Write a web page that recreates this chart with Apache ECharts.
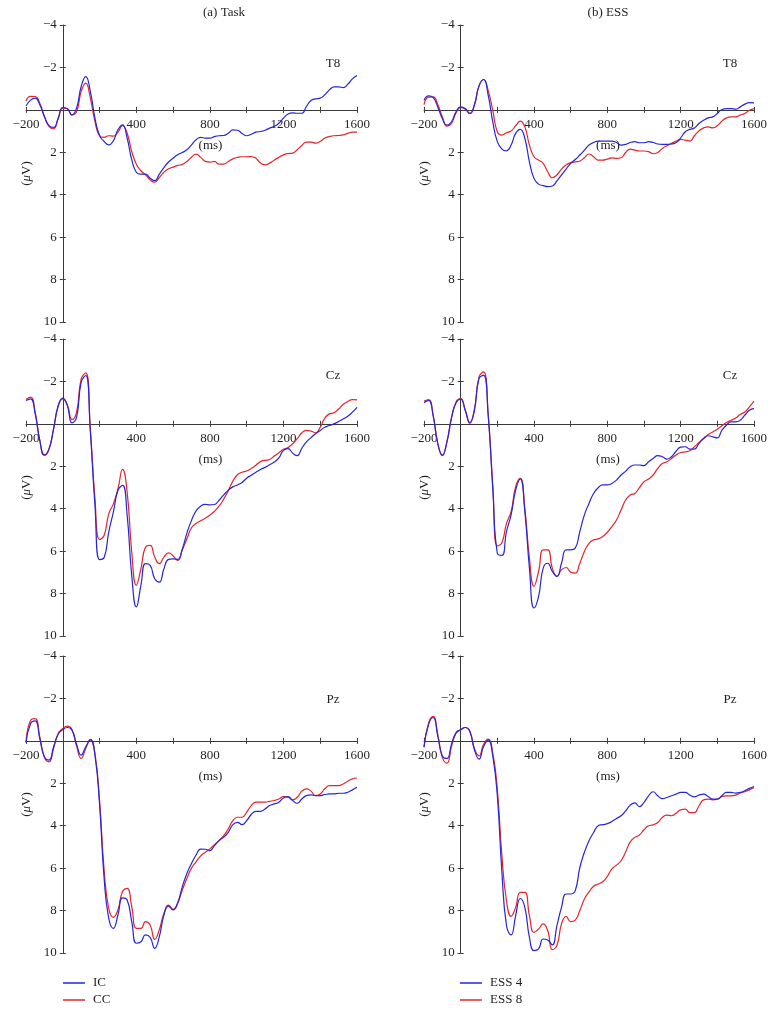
<!DOCTYPE html>
<html>
<head>
<meta charset="utf-8">
<title>ERP waveforms</title>
<script src="https://cdn.jsdelivr.net/npm/echarts@6.0.0/dist/echarts.min.js"></script>
<style>
  html, body { margin: 0; padding: 0; background: #fff; }
  #main { width: 775px; height: 1011px; }
</style>
</head>
<body>
<div id="main"></div>
<script>
// sample times (ms)
const times = [
  -200, -175, -150, -125, -100, -75, -50, -25, 0, 25,
  50, 75, 100, 125, 150, 175, 200, 225, 250, 275,
  300, 325, 350, 375, 400, 425, 450, 475, 500, 525,
  550, 575, 600, 625, 650, 675, 700, 725, 750, 775,
  800, 825, 850, 875, 900, 925, 950, 975, 1000, 1025,
  1050, 1075, 1100, 1125, 1150, 1175, 1200, 1225, 1250, 1275,
  1300, 1325, 1350, 1375, 1400, 1425, 1450, 1475, 1500, 1525,
  1550, 1575, 1600
];
const xLabelValues = [-200, 400, 800, 1200, 1600];
const yLabelValues = [-4, -2, 2, 4, 6, 8, 10];
const columnTitles = ['(a) Task', '(b) ESS'];
const channels = ['T8', 'Cz', 'Pz'];
const taskNames = ['IC', 'CC'];
const essNames = ['ESS 4', 'ESS 8'];

// amplitudes (uV), one value per sample time
const t8TaskIC = [
  -0.19, -0.46, -0.55, -0.24, 0.31, 0.74, 0.83, 0.39, -0.11, -0.05,
  0.24, -0.08, -1.1, -1.57, -0.86, 0.39, 1.21, 1.49, 1.65, 1.46,
  0.94, 0.71, 1.33, 2.35, 2.94, 3.03, 3.03, 3.22, 3.34, 3.03,
  2.72, 2.46, 2.28, 2.12, 2.01, 1.88, 1.65, 1.41, 1.3, 1.33,
  1.33, 1.26, 1.22, 1.21, 1.1, 0.94, 0.96, 1.11, 1.22, 1.15,
  1.05, 1.02, 0.96, 0.86, 0.78, 0.63, 0.39, 0.2, 0.14, 0.16,
  0.16, -0.16, -0.44, -0.52, -0.55, -0.71, -0.94, -1.08, -1.08, -1.05,
  -1.21, -1.46, -1.62
];
const t8TaskCC = [
  -0.42, -0.64, -0.63, -0.31, 0.31, 0.78, 0.89, 0.42, -0.08, -0.05,
  0.24, 0.08, -0.86, -1.26, -0.55, 0.55, 1.22, 1.3, 1.22, 1.24,
  1.05, 0.74, 1.1, 1.96, 2.56, 2.87, 3.06, 3.3, 3.41, 3.19,
  2.94, 2.78, 2.7, 2.62, 2.57, 2.43, 2.23, 2.09, 2.24, 2.43,
  2.46, 2.43, 2.56, 2.56, 2.43, 2.31, 2.24, 2.21, 2.21, 2.2,
  2.28, 2.51, 2.59, 2.51, 2.37, 2.24, 2.12, 2.06, 2.04, 1.88,
  1.68, 1.52, 1.52, 1.57, 1.49, 1.33, 1.26, 1.22, 1.21, 1.18,
  1.11, 1.05, 1.05
];
const t8Ess4 = [
  -0.45, -0.66, -0.58, -0.14, 0.41, 0.72, 0.56, 0.09, -0.14, -0.06,
  0.17, -0.22, -1.13, -1.43, -0.69, 0.56, 1.5, 1.85, 1.93, 1.66,
  1.11, 0.92, 1.35, 2.45, 3.23, 3.5, 3.57, 3.62, 3.59, 3.35,
  3.07, 2.79, 2.52, 2.34, 2.13, 1.9, 1.66, 1.54, 1.47, 1.47,
  1.47, 1.47, 1.54, 1.66, 1.63, 1.54, 1.5, 1.55, 1.55, 1.5,
  1.54, 1.61, 1.63, 1.63, 1.61, 1.54, 1.32, 1.03, 0.92, 0.85,
  0.64, 0.49, 0.38, 0.33, 0.17, -0.02, -0.06, -0.06, -0.03, -0.14,
  -0.27, -0.34, -0.33
];
const t8Ess8 = [
  -0.25, -0.6, -0.61, -0.25, 0.33, 0.77, 0.64, 0.13, -0.11, -0.03,
  0.17, -0.25, -1.11, -1.43, -0.92, 0.02, 1.03, 1.19, 1.08, 1.0,
  0.75, 0.53, 0.8, 1.66, 2.21, 2.37, 2.52, 2.92, 3.2, 3.07,
  2.79, 2.6, 2.49, 2.45, 2.41, 2.26, 2.08, 2.21, 2.37, 2.37,
  2.32, 2.26, 2.29, 2.26, 2.01, 1.85, 1.9, 1.94, 1.94, 1.97,
  2.07, 2.01, 1.82, 1.69, 1.58, 1.47, 1.39, 1.43, 1.47, 1.22,
  0.99, 0.85, 0.8, 0.85, 0.75, 0.53, 0.38, 0.33, 0.33, 0.25,
  0.17, 0.02, -0.06
];
const czTaskIC = [
  -1.1, -1.18, -0.47, 0.78, 1.46, 1.18, 0.24, -0.86, -1.21, -0.86,
  -0.05, -0.31, -1.96, -2.28, 0.39, 3.85, 6.4, 6.3, 5.1, 4.16,
  3.14, 2.9, 4.3, 7.14, 8.63, 7.61, 6.59, 6.67, 7.3, 7.46,
  6.83, 6.39, 6.36, 6.39, 5.9, 5.15, 4.55, 4.1, 3.88, 3.8,
  3.82, 3.8, 3.6, 3.35, 3.13, 2.97, 2.88, 2.76, 2.56, 2.42,
  2.28, 2.15, 2.05, 1.93, 1.8, 1.6, 1.25, 1.17, 1.38, 1.5,
  1.15, 0.85, 0.65, 0.47, 0.31, 0.16, 0.08, 0.0, -0.11, -0.23,
  -0.36, -0.55, -0.78
];
const czTaskCC = [
  -1.15, -1.26, -0.55, 0.78, 1.49, 1.21, 0.24, -0.83, -1.18, -0.89,
  -0.2, -0.55, -2.12, -2.4, 0.24, 3.53, 5.45, 5.25, 4.24, 3.77,
  3.06, 2.15, 3.22, 6.04, 7.61, 6.83, 5.81, 5.73, 6.28, 6.59,
  6.28, 6.08, 6.23, 6.44, 5.95, 5.42, 4.9, 4.7, 4.57, 4.45,
  4.3, 4.12, 3.88, 3.55, 3.15, 2.7, 2.4, 2.28, 2.22, 2.1,
  1.95, 1.78, 1.72, 1.68, 1.52, 1.36, 1.2, 1.12, 0.94, 0.7,
  0.42, 0.31, 0.34, 0.42, 0.16, -0.27, -0.47, -0.52, -0.7, -0.92,
  -1.05, -1.14, -1.13
];
const czEss4 = [
  -1.0, -1.11, -0.38, 0.92, 1.47, 0.85, -0.28, -1.0, -1.16, -0.64,
  -0.06, -0.64, -2.13, -2.29, -0.41, 3.04, 6.1, 6.2, 5.08, 4.29,
  3.12, 2.6, 4.14, 6.8, 8.68, 8.13, 6.8, 6.57, 6.96, 7.19,
  6.57, 5.94, 5.94, 5.86, 5.08, 4.29, 3.75, 3.28, 3.01, 2.88,
  2.88, 2.81, 2.65, 2.41, 2.23, 2.02, 1.94, 1.94, 1.97, 1.79,
  1.63, 1.5, 1.55, 1.66, 1.55, 1.29, 1.1, 1.08, 1.19, 1.19,
  0.92, 0.69, 0.56, 0.61, 0.66, 0.3, 0.06, -0.09, -0.09, -0.17,
  -0.41, -0.64, -0.72
];
const czEss8 = [
  -1.07, -1.14, -0.41, 0.92, 1.5, 0.85, -0.28, -1.03, -1.19, -0.64,
  -0.02, -0.69, -2.21, -2.45, -0.49, 2.88, 5.75, 5.6, 4.69, 4.14,
  2.96, 2.57, 3.98, 6.33, 7.66, 6.96, 5.94, 5.94, 6.8, 7.19,
  6.88, 6.77, 6.99, 7.04, 6.57, 6.02, 5.63, 5.47, 5.42, 5.31,
  5.11, 4.84, 4.53, 4.06, 3.59, 3.35, 3.28, 3.01, 2.73, 2.6,
  2.41, 2.1, 1.87, 1.79, 1.63, 1.47, 1.35, 1.32, 1.27, 1.08,
  0.88, 0.69, 0.5, 0.38, 0.25, 0.09, -0.06, -0.17, -0.28, -0.44,
  -0.56, -0.8, -1.07
];
const pzTaskIC = [
  0.09, -0.82, -0.94, -0.11, 0.75, 0.91, 0.28, -0.31, -0.53, -0.63,
  -0.5, 0.16, 0.67, 0.28, -0.06, 0.67, 3.0, 6.5, 8.37, 8.84,
  8.21, 7.4, 7.5, 8.52, 9.54, 9.47, 9.15, 9.26, 9.78, 9.23,
  8.21, 7.79, 7.97, 7.63, 6.88, 6.25, 5.78, 5.38, 5.1, 5.11,
  5.17, 4.94, 4.7, 4.54, 4.31, 3.95, 3.84, 3.95, 3.76, 3.47,
  3.32, 3.32, 3.21, 3.05, 2.97, 2.89, 2.69, 2.63, 2.81, 2.94,
  2.74, 2.58, 2.55, 2.58, 2.58, 2.53, 2.5, 2.5, 2.47, 2.47,
  2.42, 2.31, 2.19
];
const pzTaskCC = [
  0.05, -0.97, -1.05, -0.19, 0.78, 0.99, 0.36, -0.35, -0.58, -0.69,
  -0.53, 0.25, 0.83, 0.36, -0.06, 0.6, 2.8, 6.1, 7.9, 8.32,
  7.97, 7.1, 6.95, 7.82, 8.84, 8.84, 8.52, 8.68, 9.36, 8.9,
  8.13, 7.74, 7.94, 7.66, 7.03, 6.48, 6.0, 5.7, 5.42, 5.25,
  5.09, 4.89, 4.7, 4.47, 4.15, 3.76, 3.6, 3.6, 3.36, 3.05,
  2.89, 2.89, 2.89, 2.85, 2.81, 2.74, 2.63, 2.66, 2.78, 2.66,
  2.37, 2.26, 2.37, 2.58, 2.5, 2.26, 2.11, 2.11, 2.11, 2.03,
  1.9, 1.79, 1.75
];
const pzEss4 = [
  0.31, -0.78, -1.1, -0.24, 0.71, 0.83, 0.16, -0.39, -0.52, -0.63,
  -0.47, 0.42, 0.86, 0.27, -0.05, 0.71, 2.59, 6.2, 8.71, 9.15,
  8.24, 7.43, 7.85, 9.26, 9.89, 9.81, 9.34, 9.39, 9.62, 8.71,
  7.85, 7.22, 7.22, 7.06, 5.97, 5.25, 4.71, 4.32, 4.0, 3.95,
  3.9, 3.8, 3.66, 3.53, 3.3, 3.03, 2.92, 3.1, 2.9, 2.59,
  2.4, 2.59, 2.72, 2.67, 2.59, 2.51, 2.43, 2.43, 2.56, 2.64,
  2.56, 2.51, 2.62, 2.75, 2.75, 2.59, 2.43, 2.43, 2.46, 2.43,
  2.35, 2.24, 2.15
];
const pzEss8 = [
  0.27, -0.83, -1.15, -0.31, 0.78, 1.05, 0.27, -0.36, -0.52, -0.63,
  -0.42, 0.36, 0.71, 0.16, -0.08, 0.55, 2.28, 5.42, 7.54, 8.27,
  7.85, 7.14, 7.14, 8.24, 9.03, 8.87, 8.63, 8.95, 9.84, 9.65,
  8.63, 8.27, 8.52, 8.45, 8.0, 7.45, 7.12, 6.85, 6.75, 6.64,
  6.39, 6.04, 5.86, 5.65, 5.23, 4.76, 4.55, 4.44, 4.19, 4.0,
  3.96, 3.85, 3.61, 3.5, 3.53, 3.41, 3.25, 3.22, 3.38, 3.38,
  3.06, 2.78, 2.75, 2.78, 2.75, 2.62, 2.59, 2.59, 2.56, 2.46,
  2.4, 2.31, 2.2
];

// rows: T8, Cz, Pz; columns: task, ESS
const panelSeries = [
  [[t8TaskIC, t8TaskCC], [t8Ess4, t8Ess8]],
  [[czTaskIC, czTaskCC], [czEss4, czEss8]],
  [[pzTaskIC, pzTaskCC], [pzEss4, pzEss8]],
];
const columnNames = [taskNames, essNames];

// layout (px)
const colLeft = [26, 424];
const colWidth = [331, 330];
const rowTop = [25, 339, 656];
const rowHeight = 297;
const labelX = [333, 730];
const labelY = [64, 376, 700];

const FONT = 'Liberation Serif';
const INK = '#231f20';
const AXIS = '#3a3a3a';
const BLUE = '#2626d9';
const RED = '#e2262c';

const X_MIN = -200, X_MAX = 1600, Y_MIN = -4, Y_MAX = 10;

const minus = (v) => String(v).replace('-', '\u2212');

const grids = [];
const xAxes = [];
const yAxes = [];
const series = [];
const graphics = [];

for (let r = 0; r < 3; r++) {
  for (let c = 0; c < 2; c++) {
    const g = grids.length;
    grids.push({
      left: colLeft[c], width: colWidth[c], top: rowTop[r], height: rowHeight,
      containLabel: false, outerBoundsMode: 'none',
    });
    // pull the axes in from the grid edges onto the 0 ms / 0 uV lines
    const xShift = -rowHeight * (Y_MAX - 0) / (Y_MAX - Y_MIN);
    const yShift = -colWidth[c] * (0 - X_MIN) / (X_MAX - X_MIN);
    xAxes.push({
      type      : 'value',
      gridIndex : g,
      position  : 'bottom',
      offset    : xShift,
      min       : X_MIN,
      max       : X_MAX,
      interval  : 200,
      name      : '(ms)',
      nameLocation : 'middle',
      nameGap   : 29,
      nameTextStyle : { fontFamily: FONT, fontSize: 13, color: INK, padding: [0, 0, 0, 38] },
      axisLine  : { onZero: false, lineStyle: { color: AXIS, width: 1 } },
      axisTick  : { length: 3, lineStyle: { color: AXIS } },
      axisLabel : {
        margin     : 8,
        fontFamily : FONT,
        fontSize   : 13,
        color      : INK,
        showMinLabel : true,
        showMaxLabel : true,
        formatter  : (v) => (xLabelValues.includes(v) ? minus(v) : ''),
      },
      splitLine : { show: false },
    });
    yAxes.push({
      type      : 'value',
      gridIndex : g,
      position  : 'left',
      offset    : yShift,
      min       : Y_MIN,
      max       : Y_MAX,
      interval  : 2,
      inverse   : true,
      name      : '({i|\u03bc}V)',
      nameLocation : 'middle',
      nameGap   : 30,
      nameTextStyle : {
        fontFamily : FONT,
        fontSize   : 13,
        color      : INK,
        rich       : { i: { fontFamily: FONT, fontSize: 13, fontStyle: 'italic', color: INK } },
      },
      axisLine  : { show: true, onZero: false, lineStyle: { color: AXIS, width: 1 } },
      axisTick  : { show: true, length: 3, lineStyle: { color: AXIS } },
      axisLabel : {
        margin     : 6,
        fontFamily : FONT,
        fontSize   : 13,
        color      : INK,
        formatter  : (v) => (yLabelValues.includes(v) ? minus(v) : ''),
      },
      splitLine : { show: false },
    });
    const names = columnNames[c];
    panelSeries[r][c].forEach((vals, k) => {
      series.push({
        type       : 'line',
        name       : names[k],
        xAxisIndex : g,
        yAxisIndex : g,
        smooth     : 0.5,
        symbol     : 'none',
        color      : k === 0 ? BLUE : RED,
        lineStyle  : { width: 1.2 },
        z          : k === 0 ? 3 : 2,
        data       : times.map((t, i) => [t, vals[i]]),
      });
    });
    graphics.push({
      type  : 'text',
      x     : labelX[c],
      y     : labelY[r],
      style : { text: channels[r], fontFamily: FONT, fontSize: 13, fill: INK, textAlign: 'center', textVerticalAlign: 'middle' },
    });
  }
}

// a second, line-less axis per grid gives the inner half of each crossing tick
for (let g = 0; g < 6; g++) {
  const c = g % 2;
  xAxes.push({
    type: 'value', gridIndex: g, position: 'bottom',
    offset: -rowHeight * Y_MAX / (Y_MAX - Y_MIN),
    min: X_MIN, max: X_MAX, interval: 200,
    axisLine: { show: false, onZero: false },
    axisTick: { show: true, inside: true, length: 3, lineStyle: { color: AXIS } },
    axisLabel: { show: false }, splitLine: { show: false },
  });
  yAxes.push({
    type: 'value', gridIndex: g, position: 'left',
    offset: -colWidth[c] * (0 - X_MIN) / (X_MAX - X_MIN),
    min: Y_MIN, max: Y_MAX, interval: 2, inverse: true,
    axisLine: { show: false, onZero: false },
    axisTick: { show: true, inside: true, length: 3, lineStyle: { color: AXIS } },
    axisLabel: { show: false }, splitLine: { show: false },
  });
}

graphics.push(
  { type: 'text', x: 224, y: 13, style: { text: columnTitles[0], fontFamily: FONT, fontSize: 13, fill: INK, textAlign: 'center', textVerticalAlign: 'middle' } },
  { type: 'text', x: 608, y: 13, style: { text: columnTitles[1], fontFamily: FONT, fontSize: 13, fill: INK, textAlign: 'center', textVerticalAlign: 'middle' } }
);

const legendBase = {
  orient     : 'vertical',
  top        : 976,
  padding    : 0,
  icon       : 'rect',
  itemWidth  : 22,
  itemHeight : 1.5,
  itemGap    : 3,
  textStyle  : { fontFamily: FONT, fontSize: 13, color: INK, lineHeight: 14, padding: [0, 0, 0, 3] },
};

const chart = echarts.init(document.getElementById('main'));
chart.setOption({
  backgroundColor : '#fff',
  animation : false,
  grid      : grids,
  xAxis     : xAxes,
  yAxis     : yAxes,
  legend    : [
    Object.assign({}, legendBase, { left: 63, data: taskNames }),
    Object.assign({}, legendBase, { left: 460, data: essNames }),
  ],
  series    : series,
  graphic   : graphics,
});
</script>
</body>
</html>
